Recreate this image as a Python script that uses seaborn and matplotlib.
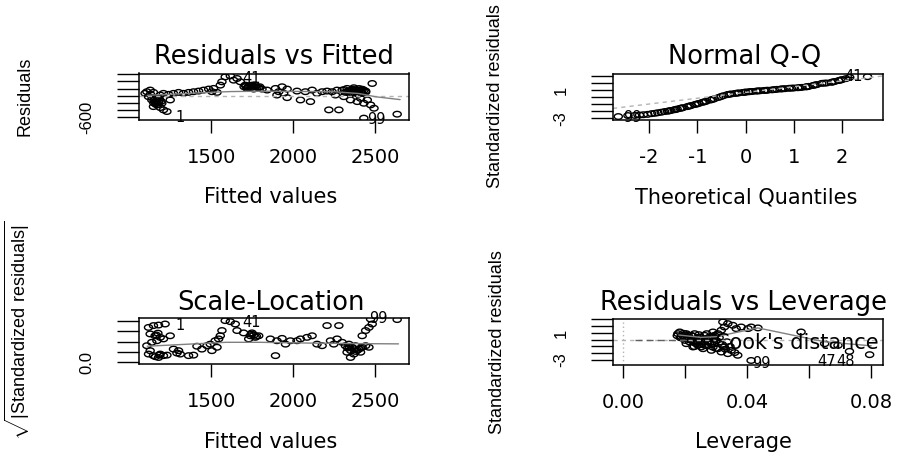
import numpy as np
import matplotlib
import matplotlib.pyplot as plt
from matplotlib.path import Path
import seaborn as sns

matplotlib.use('Agg')

# --- Residuals vs Fitted ---
fitted = [1108, 1128, 1097, 1148, 1118, 1138, 1158, 1169, 1148, 1189, 1209, 1230, 1199, 1250, 1179, 1189, 1209, 1240,
          1270, 1301, 1331, 1362, 1392, 1423, 1453, 1484, 1504, 1514, 1535, 1555, 1565, 1585, 1616, 1636, 1657, 1677,
          1707, 1728, 1748, 1768, 1789, 1809, 1717, 1758, 1840, 1891, 1911, 1931, 1941, 1962, 1900, 1962, 2022, 2043,
          2073, 2104, 2114, 2144, 2175, 2205, 2216, 2277, 2236, 2256, 2266,
          2297, 2317, 2338, 2358, 2378, 2399, 2419, 2440, 2307, 2348, 2389, 2429, 2409, 2327, 2368, 2470, 2491, 2480,
          2450, 2429, 2632,
          1712, 1735, 1755, 1778, 1745, 1722, 1150, 1165, 1180, 1140, 1130,
          2310, 2330, 2350, 2370, 2390, 2410, 2430, 2345, 2395,
          1160, 1175, 1195, 1155, 1185, 1700, 1765, 1795, 2360, 2380, 2420, 2440, 2400]
resid = [111, 157, 65, 92, -28, -120, -166, -258, -305, -332, -397, -443, -212, -120, -74, 18, 65, 37,
         65, 92, 65, 92, 111, 129, 157, 185, 111, 203, 92, 295, 388, 526, 554, 434, 480, 388,
         295, 249, 295, 249, 222, 185, 203, 185, 157, 203, 111, 249, 65, 185, 18, -55, 129, -120,
         111, -166, 157, 65, 111, 129, -397, -397, 111, 18, 157,
         157, 92, 129, 65, 111, 157, 65, 129, -28, -120, -166, -212, -74, 203, 222, -258, -351, 341,
         -120, -628, -517,
         270, 280, 265, 240, 230, 230, -200, -140, -180, -60, 40,
         170, 110, 150, 90, 130, 100, 150, 60, 40,
         -230, -250, -160, -90, -110, 250, 300, 250, 180, 160, 180, 100, 200]
smooth1_x = [1110, 1300, 1500, 1620, 1800, 2000, 2250, 2400, 2500, 2650]
smooth1_y = [10, 50, 95, 115, 125, 120, 110, 60, -30, -110]

# --- Normal Q-Q ---
theo_q = [-2.64, -2.44, -2.3, -2.2, -2.12, -2.03, -1.95, -1.88, -1.82, -1.75,
          -1.68, -1.62, -1.55, -1.48, -1.42, -1.36, -1.3, -1.21, -1.13, -1.05,
          -0.97, -0.9, -0.82, -0.73, -0.65, -0.56, -0.46, -0.38, -0.3, -0.22,
          -0.14, -0.06, 0.0, 0.06, 0.14, 0.22, 0.3, 0.38, 0.46, 0.55,
          0.65, 0.73, 0.82, 0.9, 1.0, 1.08, 1.17, 1.25, 1.31, 1.4,
          1.48, 1.58, 1.68, 1.78, 1.85, 1.93, 2.0, 2.16, 2.53,
          -1.58, -1.45, -1.33, -1.17, -1.01, -0.86, -0.69, -0.51, -0.34, -0.18,
          -0.02, 0.1, 0.26, 0.42, 0.6, 0.77, 0.95, 1.12, 1.28, 1.44,
          1.63, 1.81, 1.97, 2.08]
std_resid_sorted = [-2.76, -2.62, -2.6, -2.55, -2.5, -2.45, -2.35, -2.3, -2.22, -2.15,
                    -2.05, -2.0, -1.9, -1.8, -1.7, -1.6, -1.5, -1.35, -1.2, -1.05,
                    -0.9, -0.75, -0.6, -0.42, -0.25, -0.05, 0.2, 0.35, 0.45, 0.52,
                    0.6, 0.66, 0.71, 0.75, 0.8, 0.85, 0.9, 0.94, 0.98, 1.03,
                    1.1, 1.15, 1.2, 1.25, 1.29, 1.33, 1.38, 1.45, 1.52, 1.65,
                    1.78, 1.95, 2.0, 2.1, 2.22, 2.35, 2.48, 2.8, 2.9,
                    -1.95, -1.75, -1.55, -1.28, -0.98, -0.68, -0.33, 0.08, 0.4, 0.56,
                    0.69, 0.78, 0.88, 0.96, 1.07, 1.18, 1.27, 1.35, 1.48, 1.72,
                    1.98, 2.15, 2.42, 2.62]
qq_line_x = [-2.75, 2.85]
qq_line_y = [-1.6, 3.0]

# --- Scale-Location ---
sl_fitted = [1118, 1148, 1179, 1219, 1128, 1158, 1189, 1169, 1209, 1138,
             1108, 1250, 1118, 1148, 1189, 1209, 1128, 1179, 1230, 1291,
             1311, 1270, 1301, 1362, 1392, 1413, 1443, 1474, 1494, 1504,
             1524, 1545, 1555, 1535, 1565, 1585, 1616, 1646, 1657, 1697,
             1738, 1748, 1768, 1789, 1728, 1860, 1891, 1900, 1931, 1952,
             1982, 2022, 2043, 2083, 2114, 2144, 2175, 2205, 2277, 2226,
             2246, 2266, 2297, 2317, 2338, 2358, 2378, 2399, 2419, 2440,
             2327, 2368, 2409, 2348, 2460, 2419, 2440, 2460, 2480, 2470, 2632,
             1165, 1175, 1185, 1160, 1745, 1760, 1775, 2330, 2350, 2370, 2390, 2410, 2340, 2380]
sl_sqrt = [1.34, 1.41, 1.43, 1.47, 1.09, 1.02, 0.96, 0.83, 0.90, 0.77,
           0.64, 1.02, 0.32, 0.26, 0.32, 0.26, 0.45, 0.19, 0.28, 0.36,
           0.32, 0.51, 0.45, 0.26, 0.28, 0.62, 0.51, 0.64, 0.70, 0.45,
           0.83, 0.90, 1.02, 0.58, 1.22, 1.60, 1.56, 1.47, 1.22, 1.13,
           1.02, 1.13, 0.96, 1.02, 0.90, 0.90, 0.26, 0.83, 0.92, 0.70,
           0.83, 0.83, 0.90, 0.96, 1.02, 0.70, 0.64, 1.41, 1.41, 0.83,
           0.70, 0.90, 0.77, 0.64, 0.70, 0.58, 0.64, 0.51, 0.58, 0.64,
           0.39, 0.32, 0.39, 0.19, 0.58, 1.02, 1.22, 1.34, 1.47, 1.66, 1.64,
           1.05, 1.12, 0.28, 0.22, 1.08, 1.05, 1.0, 0.55, 0.45, 0.52, 0.47, 0.55, 0.60, 0.42]
smooth3_x = [1110, 1300, 1590, 1800, 2100, 2400, 2640]
smooth3_y = [0.62, 0.68, 0.77, 0.77, 0.74, 0.72, 0.71]

# --- Residuals vs Leverage ---
leverage = [0.0177, 0.0193, 0.0209, 0.0220, 0.0236, 0.0252, 0.0263, 0.0274, 0.0285, 0.0295,
            0.0306, 0.0317, 0.0327, 0.0338, 0.0322, 0.0354, 0.0365, 0.0381, 0.0403, 0.0413, 0.0435,
            0.0199, 0.0215, 0.0231, 0.0247, 0.0263, 0.0279,
            0.0242, 0.0258, 0.0285, 0.0306, 0.0327, 0.0317, 0.0338, 0.0349,
            0.0226, 0.0204, 0.0295, 0.0311, 0.0413, 0.0574, 0.0650, 0.0693, 0.0730, 0.0795,
            0.0183, 0.0188, 0.0204, 0.0220, 0.0231, 0.0242, 0.0252, 0.0263, 0.0274, 0.0285, 0.0290,
            0.0175, 0.0185, 0.0195, 0.0200, 0.0210, 0.0215, 0.0225, 0.0230, 0.0240, 0.0245,
            0.0250, 0.0255, 0.0265, 0.0270, 0.0270, 0.0280, 0.0290, 0.0290, 0.0300, 0.0300,
            0.0310, 0.0320, 0.0330, 0.0335, 0.0345, 0.0360, 0.0370, 0.0230]
lev_resid = [0.90, 0.65, 0.41, -0.09, -0.58, -1.07, -0.83, -0.33, 0.16, 0.65,
             0.90, 1.40, 1.89, 2.38, 2.63, 2.14, 1.65, 1.89, 1.65, 1.89, 1.75,
             0.16, -0.33, -0.09, 0.41, 0.65, 0.41,
             -0.83, -1.33, -1.57, -1.33, -1.07, -1.82, -2.06, -1.57,
             -1.07, -0.58, -0.58, -0.33, -3.07, 1.15, -0.58, -0.83, -1.72, -2.21,
             1.15, 0.41, 0.90, 0.65, 0.90, 0.16, -0.09, -0.33, 0.16, -0.58, 1.15,
             0.6, 0.3, 0.95, -0.1, 0.7, 0.2, 0.55, -0.4, -0.2, 0.75,
             0.3, -0.6, 0.1, -0.9, 0.9, -0.4, -1.1, 0.5, -0.1, -1.3,
             0.3, -0.7, -1.4, -0.3, -1.0, -1.9, -2.3, -1.0]
smooth4_x = [0.018, 0.025, 0.030, 0.0435, 0.065, 0.080]
smooth4_y = [0.7, 0.35, 0.45, 1.75, -0.3, -0.9]
cook_key_x = [0.004, 0.021]
cook_key_y = [-0.05, -0.05]

sns.set_style('white')
plt.rcParams['font.family'] = ['DejaVu Sans']
plt.rcParams['mathtext.fontset'] = 'custom'
plt.rcParams['mathtext.rm'] = 'Liberation Sans'
plt.rcParams['text.color'] = 'black'
plt.rcParams['xtick.color'] = 'black'
plt.rcParams['ytick.color'] = 'black'
plt.rcParams['axes.labelcolor'] = 'black'

W, H = 909, 453
fig = plt.figure(figsize=(W / 100, H / 100), dpi=100)

_t = np.linspace(0, 2 * np.pi, 41)
oval = Path(np.column_stack([1.45 * np.cos(_t), np.sin(_t)]), closed=True)

GREY = '#808080'
LIGHT = '#b4b4b4'


def rect(l, t, r, b):
    return [l / W, 1 - b / H, (r - l) / W, (b - t) / H]


def ftext(x, y, s, **kw):
    fig.text(x / W, 1 - y / H, s, ha='center', va='center', color='black', **kw)


def frame(ax, xlim, ylim, xt, xl, yt, yl):
    ax.set_xlim(xlim)
    ax.set_ylim(ylim)
    ax.set_xticks(xt, xl)
    ax.set_yticks(yt, yl)
    ax.set_xlabel('')
    ax.set_ylabel('')
    for s in ax.spines.values():
        s.set_visible(True)
        s.set_color('black')
        s.set_linewidth(1.1)
    ax.tick_params(axis='x', length=9, width=1, pad=11, labelsize=14, bottom=True, direction='out',
                   colors='black')
    ax.tick_params(axis='y', length=16, width=1, pad=16, labelsize=12, left=True, direction='out',
                   labelrotation=90, colors='black')
    for lab in ax.get_yticklabels():
        lab.set_family('Liberation Sans')
        lab.set_va('center')


def points(ax, x, y):
    sns.scatterplot(x=x, y=y, ax=ax, marker=oval, s=34, color='black', facecolors='none',
                    edgecolor='black', linewidth=1.0, legend=False)


lab_kw = dict(fontsize=10.5, color='black', va='center', clip_on=False)

# Panel 1
ax1 = fig.add_axes(rect(138.5, 73.5, 409, 120))
ax1.axhline(0, color=LIGHT, lw=1, ls=(0, (3, 3)))
sns.lineplot(x=smooth1_x, y=smooth1_y, ax=ax1, color=GREY, lw=1)
points(ax1, fitted, resid)
ax1.text(1690, 480, '41', ha='left', **lab_kw)
ax1.text(1311, -609, '1', ha='center', **lab_kw)
ax1.text(2504, -680, '99', ha='center', **lab_kw)
frame(ax1, (1057, 2704), (-680, 620), [1500, 2000, 2500], ['1500', '2000', '2500'],
      [-600, -400, -200, 0, 200, 400, 600], ['-600', '', '', '', '', '', ''])

# Panel 2
ax2 = fig.add_axes(rect(613, 73.5, 883, 120))
sns.lineplot(x=qq_line_x, y=qq_line_y, ax=ax2, color=LIGHT, lw=1, ls=(0, (3, 3)))
points(ax2, theo_q, std_resid_sorted)
ax2.text(2.05, 2.9, '41', ha='left', **lab_kw)
ax2.text(-2.35, -2.85, '99', ha='center', **lab_kw)
frame(ax2, (-2.75, 2.85), (-3.25, 3.35), [-2, -1, 0, 1, 2], ['-2', '-1', '0', '1', '2'],
      [-3, -2, -1, 0, 1, 2, 3], ['-3', '', '', '', '1', '', ''])

# Panel 3
ax3 = fig.add_axes(rect(138.5, 318, 409, 364))
sns.lineplot(x=smooth3_x, y=smooth3_y, ax=ax3, color=GREY, lw=1)
points(ax3, sl_fitted, sl_sqrt)
ax3.text(1311, 1.43, '1', ha='center', **lab_kw)
ax3.text(1690, 1.53, '41', ha='left', **lab_kw)
ax3.text(2520, 1.69, '99', ha='center', **lab_kw)
frame(ax3, (1057, 2704), (-0.06, 1.70), [1500, 2000, 2500], ['1500', '2000', '2500'],
      [0, 0.4, 0.8, 1.2, 1.6], ['0.0', '', '', '', ''])

# Panel 4
ax4 = fig.add_axes(rect(613, 319, 883, 365))
ax4.axhline(0, color=LIGHT, lw=1, ls=(0, (3, 3)))
ax4.axvline(0, color=LIGHT, lw=1, ls=(0, (1, 2)))
sns.lineplot(x=cook_key_x, y=cook_key_y, ax=ax4, color='#606060', lw=1, ls=(0, (5, 3)))
sns.lineplot(x=smooth4_x, y=smooth4_y, ax=ax4, color=GREY, lw=1)
ax4.text(0.0297, -0.55, "Cook's distance", fontsize=15, va='center', ha='left', clip_on=True)
points(ax4, leverage, lev_resid)
ax4.text(0.0445, -3.5, '99', ha='center', **lab_kw)
ax4.text(0.0625, -3.15, '47', ha='left', **lab_kw)
ax4.text(0.0688, -3.15, '48', ha='left', **lab_kw)
frame(ax4, (-0.0032, 0.0838), (-3.74, 3.07), [0, 0.02, 0.04, 0.06, 0.08],
      ['0.00', '', '0.04', '', '0.08'],
      [-3, -2, -1, 0, 1, 2, 3], ['-3', '', '', '', '1', '', ''])

# titles and axis labels
ftext(274, 57, 'Residuals vs Fitted', fontsize=18.5)
ftext(745, 57, 'Normal Q-Q', fontsize=18.5)
ftext(271, 303, 'Scale-Location', fontsize=18.5)
ftext(744, 303, 'Residuals vs Leverage', fontsize=18.5)

ftext(271, 197, 'Fitted values', fontsize=15)
ftext(746, 197, 'Theoretical Quantiles', fontsize=15)
ftext(271, 442, 'Fitted values', fontsize=15)
ftext(743, 442, 'Leverage', fontsize=15)

ylab_kw = dict(fontsize=13, rotation=90, family='Liberation Sans')
ftext(25, 96.5, 'Residuals', **ylab_kw)
ftext(496, 96.5, 'Standardized residuals', **ylab_kw)
ftext(17, 330, r'$\sqrt{|\mathrm{Standardized\ residuals}|}$', **ylab_kw)
ftext(497, 342, 'Standardized residuals', **ylab_kw)

fig.savefig('out.png', dpi=100)
plt.close('all')
